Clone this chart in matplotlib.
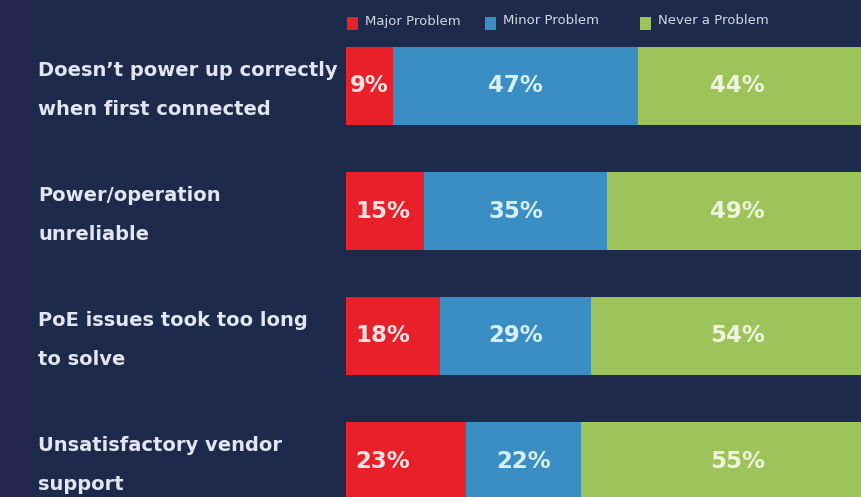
import matplotlib
matplotlib.use("Agg")
import matplotlib.pyplot as plt
from matplotlib.patches import Rectangle

# survey answers, percent of respondents
issues = ["Doesn\u2019t power up correctly\nwhen first connected",
          "Power/operation\nunreliable",
          "PoE issues took too long\nto solve",
          "Unsatisfactory vendor\nsupport"]
major = [9, 15, 18, 23]
minor = [47, 35, 29, 22]
never = [44, 49, 54, 55]
series_names = ["Major Problem", "Minor Problem", "Never a Problem"]

BG = "#1d2a4b"
STRIP = "#26264e"
RED = "#e8202a"
BLUE = "#3a8ec3"
GREEN = "#9dc35b"
TXT = "#e4e6ef"

W, H = 861, 497
fig = plt.figure(figsize=(W / 100, H / 100), dpi=100, facecolor=BG)

# darker strip on the far left
fig.patches.append(Rectangle((0, 0), 28 / W, 1, transform=fig.transFigure,
                             facecolor=STRIP, edgecolor="none", zorder=0))

# axes run past the right and bottom edge, the picture is cropped there
px_per_pct = 5.22
left_px, row_px = 346, 125
top_px = 86 - row_px / 2
ax = fig.add_axes([left_px / W, 1 - (top_px + 4 * row_px) / H,
                   100 * px_per_pct / W, 4 * row_px / H])
ax.set_facecolor("none")
ax.set_xlim(0, 100)
ax.set_ylim(3.5, -0.5)
ax.axis("off")

ys = list(range(len(issues)))
starts_minor = [a for a in major]
starts_never = [a + b for a, b in zip(major, minor)]
h = 0.62
ax.barh(ys, major, height=h, color=RED, edgecolor="none")
ax.barh(ys, minor, left=starts_minor, height=h, color=BLUE, edgecolor="none")
ax.barh(ys, never, left=starts_never, height=h, color=GREEN, edgecolor="none")

for y, a, b, c, s1, s2 in zip(ys, major, minor, never, starts_minor, starts_never):
    ax.text(min(a / 2, 7), y, f"{a}%", ha="center", va="center",
            fontsize=16.5, fontweight="bold", color="#f6e2e2")
    ax.text(s1 + b / 2, y, f"{b}%", ha="center", va="center",
            fontsize=16.5, fontweight="bold", color="#d6f0fb")
    ax.text(75, y, f"{c}%", ha="center", va="center",
            fontsize=16.5, fontweight="bold", color="#eef6dc")
    # category label on the left
    fig.text(38 / W, 1 - (86 + y * row_px + 4) / H, issues[y], ha="left",
             va="center", fontsize=14, fontweight="bold", color=TXT,
             linespacing=2.3)

# legend along the top
for x0, name, col in zip([347, 485, 640], series_names, [RED, BLUE, GREEN]):
    fig.patches.append(Rectangle((x0 / W, 1 - 30 / H), 11 / W, 13 / H,
                                 transform=fig.transFigure, facecolor=col,
                                 edgecolor="none"))
    fig.text((x0 + 18) / W, 1 - 21 / H, name, ha="left", va="center",
             fontsize=9.5, color="#d5d9e6")

fig.savefig("out.png", dpi=100, facecolor=BG)
